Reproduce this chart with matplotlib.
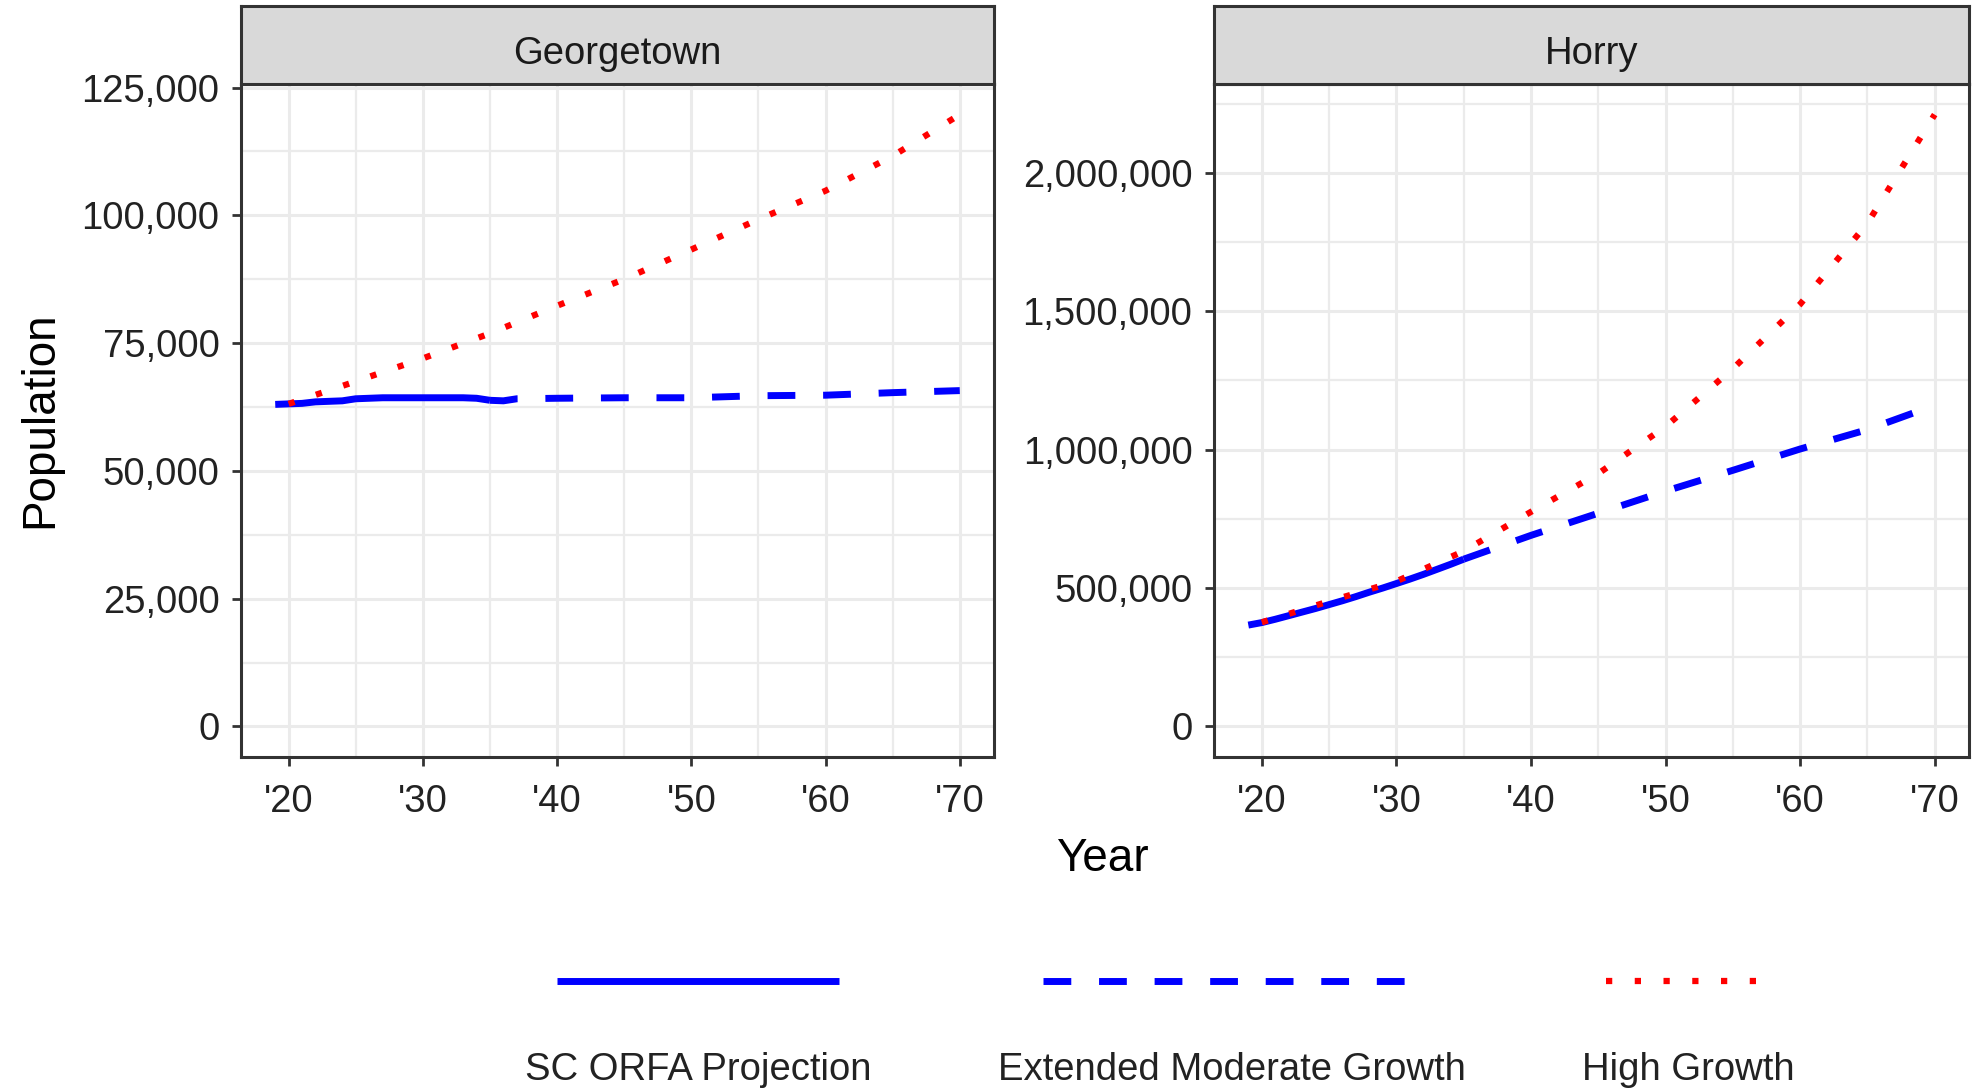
import matplotlib.pyplot as plt
import numpy as np
from matplotlib.lines import Line2D
from matplotlib.ticker import FuncFormatter, MultipleLocator

# ---- data ----
counties = ["Georgetown", "Horry"]
series_names = ["SC ORFA Projection", "Extended Moderate Growth", "High Growth"]

gt_orfa_years = list(range(2019, 2036))
gt_orfa_pop = [63000, 63100, 63200, 63500, 63600, 63700, 64100, 64200, 64300,
               64300, 64300, 64300, 64300, 64300, 64300, 64200, 63800]
gt_ext_years = [2035, 2036, 2037, 2040, 2045, 2050, 2055, 2060, 2065, 2070]
gt_ext_pop = [63800, 63700, 64100, 64200, 64300, 64300, 64700, 64800, 65300, 65700]
gt_high_years = [2020, 2025, 2030, 2035, 2040, 2045, 2050, 2055, 2060, 2065, 2070]
gt_high_pop = [63100, 67500, 72000, 76900, 82300, 87500, 93300, 99200, 104800,
               111600, 119700]

hr_orfa_years = list(range(2019, 2036))
hr_orfa_pop = [366000, 375000, 387000, 400000, 413000, 426000, 440000, 454000,
               469000, 485000, 500000, 516000, 532000, 549000, 567000, 585000, 604000]
hr_ext_years = [2035, 2040, 2045, 2050, 2055, 2060, 2065, 2070]
hr_ext_pop = [604000, 690000, 770000, 850000, 925000, 1002000, 1072000, 1160000]
hr_high_years = [2020, 2025, 2030, 2035, 2040, 2045, 2050, 2055, 2060, 2065, 2070]
hr_high_pop = [376000, 452000, 524000, 633000, 775000, 913000, 1083000, 1292000,
               1525000, 1817000, 2210000]

panel_data = {
    "Georgetown": [(gt_orfa_years, gt_orfa_pop), (gt_ext_years, gt_ext_pop),
                   (gt_high_years, gt_high_pop)],
    "Horry": [(hr_orfa_years, hr_orfa_pop), (hr_ext_years, hr_ext_pop),
              (hr_high_years, hr_high_pop)],
}
y_steps = {"Georgetown": 25000, "Horry": 500000}

# ---- styles ----
styles = [
    dict(color="#0000FF", linestyle="-", linewidth=5.0),
    dict(color="#0000FF", linestyle=(0, (4, 4)), linewidth=5.0),
    dict(color="#FF0000", linestyle=(0, (1, 3.6)), linewidth=4.5),
]

plt.rcParams["font.family"] = ["Liberation Sans", "DejaVu Sans"]
TXT = "#222222"
SMALL = 27.5
BIG = 33

W, H = 1975, 1089
fig = plt.figure(figsize=(W / 100, H / 100), dpi=100)

panel_x = {"Georgetown": (241, 994), "Horry": (1214, 1969)}
top_px, bottom_px, strip_top_px = 84, 757, 6


def comma(v, _):
    return f"{v:,.0f}"


def year_label(v, _):
    return "'" + str(int(round(v)))[-2:]


for county in counties:
    x0, x1 = panel_x[county]
    ax = fig.add_axes([x0 / W, 1 - bottom_px / H, (x1 - x0) / W,
                       (bottom_px - top_px) / H])
    for (yrs, pop), st in zip(panel_data[county], styles):
        ax.plot(yrs, pop, solid_capstyle="butt", dash_capstyle="butt", **st)

    all_x = np.concatenate([np.asarray(s[0]) for s in panel_data[county]])
    all_y = np.concatenate([np.asarray(s[1]) for s in panel_data[county]])
    xlo, xhi = all_x.min(), all_x.max()
    ylo, yhi = 0, all_y.max()
    ax.set_xlim(xlo - 0.05 * (xhi - xlo), xhi + 0.05 * (xhi - xlo))
    ax.set_ylim(ylo - 0.05 * (yhi - ylo), yhi + 0.05 * (yhi - ylo))

    step = y_steps[county]
    ax.xaxis.set_major_locator(MultipleLocator(10))
    ax.xaxis.set_minor_locator(MultipleLocator(5))
    ax.yaxis.set_major_locator(MultipleLocator(step))
    ax.yaxis.set_minor_locator(MultipleLocator(step / 2))
    ax.xaxis.set_major_formatter(FuncFormatter(year_label))
    ax.yaxis.set_major_formatter(FuncFormatter(comma))

    ax.grid(True, which="major", color="#EBEBEB", linewidth=2.2)
    ax.grid(True, which="minor", color="#EBEBEB", linewidth=1.6)
    ax.set_axisbelow(True)
    ax.tick_params(which="major", length=6.5, width=2, color="#333333",
                   labelsize=SMALL, labelcolor=TXT)
    ax.tick_params(axis="x", pad=13)
    ax.tick_params(axis="y", pad=9)
    ax.tick_params(which="minor", length=0)
    for sp in ax.spines.values():
        sp.set_color("#333333")
        sp.set_linewidth(2.2)

    # facet strip
    sax = fig.add_axes([x0 / W, 1 - top_px / H, (x1 - x0) / W,
                        (top_px - strip_top_px) / H])
    sax.set_facecolor("#D9D9D9")
    sax.set_xticks([])
    sax.set_yticks([])
    for sp in sax.spines.values():
        sp.set_color("#333333")
        sp.set_linewidth(2.2)
    sax.text(0.5, 0.38, county, ha="center", va="center", fontsize=SMALL,
             color="#1A1A1A", transform=sax.transAxes)

fig.text(40 / W, 1 - 420 / H, "Population", rotation=90, ha="center",
         va="center", fontsize=BIG, color="black")
fig.text(1102 / W, 1 - 859 / H, "Year", ha="center", va="center",
         fontsize=BIG, color="black")

# legend: keys above labels
key_centers = [698, 1232, 1688]
key_widths = [282, 378, 164]
key_y = 1 - 981 / H
label_y = 1 - 1070 / H
for name, st, cx, kw in zip(series_names, styles, key_centers, key_widths):
    fig.add_artist(Line2D([(cx - kw / 2) / W, (cx + kw / 2) / W], [key_y, key_y],
                          transform=fig.transFigure, solid_capstyle="butt",
                          dash_capstyle="butt", **st))
    fig.text(cx / W, label_y, name, ha="center", va="center",
             fontsize=SMALL, color=TXT)

fig.savefig("out.png", dpi=100)
